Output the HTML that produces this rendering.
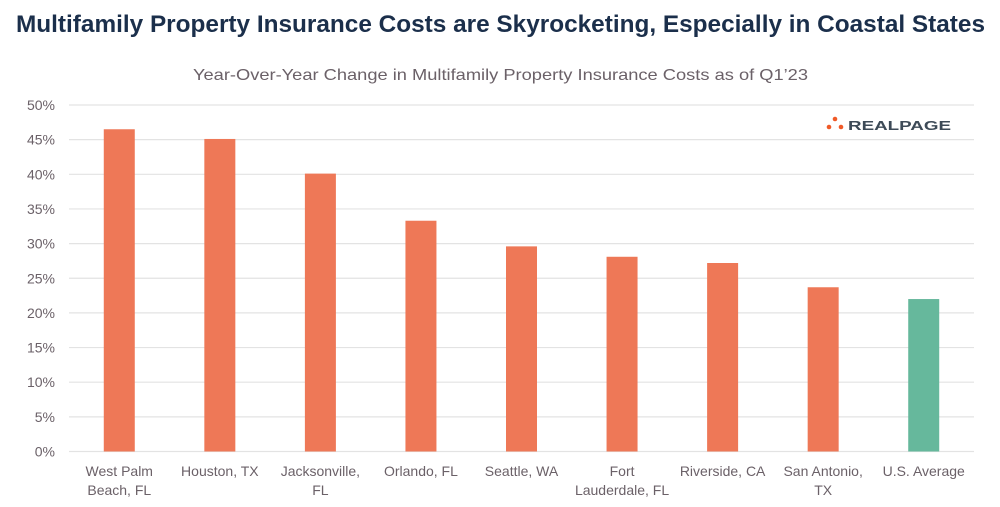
<!DOCTYPE html>
<html><head><meta charset="utf-8"><style>
html,body{margin:0;padding:0;background:#fff;}
svg{display:block;font-family:"Liberation Sans",sans-serif;}
</style></head><body>
<svg id="chart" width="1000" height="507" viewBox="0 0 1000 507" xmlns="http://www.w3.org/2000/svg">
<text x="16" y="32" font-size="24" font-weight="bold" fill="#1b2f4b" textLength="969" lengthAdjust="spacingAndGlyphs">Multifamily Property Insurance Costs are Skyrocketing, Especially in Coastal States</text>
<text x="193" y="80" font-size="16" fill="#6b6168" textLength="615" lengthAdjust="spacingAndGlyphs">Year-Over-Year Change in Multifamily Property Insurance Costs as of Q1’23</text>
<g>
<circle cx="829" cy="127" r="2.3" fill="#f05a28"/><circle cx="835" cy="119" r="2.3" fill="#f05a28"/><circle cx="841" cy="127" r="2.3" fill="#f05a28"/>
<text x="848" y="130" font-size="13" font-weight="bold" fill="#3d4a57" textLength="103" lengthAdjust="spacingAndGlyphs">REALPAGE</text>
</g>
<g id="grid"></g><g id="bars"></g><g id="ylab"></g><g id="xlab"></g>
</svg>
<script>
const categories = [["West Palm","Beach, FL"],["Houston, TX"],["Jacksonville,","FL"],["Orlando, FL"],["Seattle, WA"],["Fort","Lauderdale, FL"],["Riverside, CA"],["San Antonio,","TX"],["U.S. Average"]];
const values = [46.5, 45.1, 40.1, 33.3, 29.6, 28.1, 27.2, 23.7, 22.0];
const highlight = [false,false,false,false,false,false,false,false,true];
const ticks = [0,5,10,15,20,25,30,35,40,45,50];
const tickLabels = ["0%","5%","10%","15%","20%","25%","30%","35%","40%","45%","50%"];

const NS="http://www.w3.org/2000/svg";
const X0=69, X1=974, Y0=451.5, Y50=105;
const y = v => Y0 - (Y0-Y50)*v/50;
const band = (X1-X0)/categories.length;
const xc = i => X0 + band*(i+0.5);
const BW = 31;
function mk(tag, attrs, parent){const e=document.createElementNS(NS,tag);for(const k in attrs)e.setAttribute(k,attrs[k]);document.getElementById(parent).appendChild(e);return e;}
ticks.forEach((t,i)=>{
  const l=mk('line',{x1:X0,x2:X1,y1:y(t),y2:y(t),stroke:'#e3e3e3','stroke-width':1.2},'grid');
  
  
  const tx=mk('text',{x:55,y:y(t)+5,'text-anchor':'end','font-size':14,fill:'#6b6168'},'ylab');
  tx.textContent=tickLabels[i];
  
  
});
values.forEach((v,i)=>{
  const r=mk('rect',{x:xc(i)-BW/2,y:y(v),width:BW,height:y(0)-y(v),fill:highlight[i]?'#66b89c':'#ee7857'},'bars');
  
  
  const t=mk('text',{x:xc(i),y:476,'text-anchor':'middle','font-size':14,fill:'#6b6168'},'xlab');
  
  
  categories[i].forEach((s,j)=>{const ts=document.createElementNS(NS,'tspan');ts.setAttribute('x',xc(i));ts.setAttribute('dy',j?19:0);ts.textContent=s;t.appendChild(ts);});
});
</script>
</body></html>
